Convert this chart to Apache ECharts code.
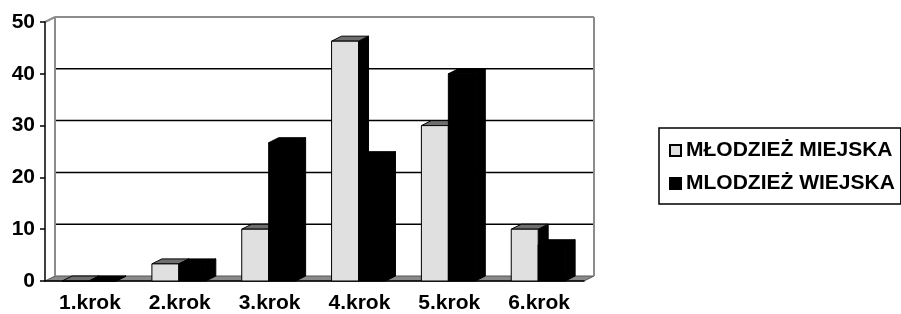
<!DOCTYPE html>
<html>
<head>
<meta charset="utf-8">
<script src="https://cdn.jsdelivr.net/npm/echarts@6/dist/echarts.min.js"></script>
<style>
  html, body { margin: 0; padding: 0; background: #fff; }
  #chart { width: 901px; height: 314px; }
</style>
</head>
<body>
<div id="chart"></div>
<script>
const categories = ['1.krok', '2.krok', '3.krok', '4.krok', '5.krok', '6.krok'];
const miejska = [0, 3.3, 10, 46.3, 30, 10];
const wiejska = [0, 3.3, 26.7, 24, 40, 7];
const yTicks = [0, 10, 20, 30, 40, 50];

// depth of the fake 3d box (px)
const DX = 10, DY = -5;
const FONT = '"Liberation Sans", Arial, sans-serif';

const chart = echarts.init(document.getElementById('chart'), null, { renderer: 'canvas' });

// back wall, floor and grid lines
function renderWalls(params, api) {
  const cs = params.coordSys;
  const x0 = cs.x, x1 = cs.x + cs.width;
  const v = api.value(1);
  const y = api.coord([0, v])[1];
  const yBase = api.coord([0, 0])[1];
  const children = [];
  if (v === 0) {
    children.push({
      type: 'polygon',
      shape: { points: [[x0, y], [x1, y], [x1 + DX, y + DY], [x0 + DX, y + DY]] },
      style: { fill: '#8a8a8a', stroke: '#555', lineWidth: 1 }
    });
  } else if (v === yTicks[yTicks.length - 1]) {
    const gray = { stroke: '#8c8c8c', lineWidth: 2 };
    children.push(
      { type: 'line', shape: { x1: x0 + DX, y1: y + DY, x2: x1 + DX, y2: y + DY }, style: gray },
      { type: 'line', shape: { x1: x0, y1: y, x2: x0 + DX, y2: y + DY }, style: gray },
      { type: 'line', shape: { x1: x0 + DX, y1: y + DY, x2: x0 + DX, y2: yBase + DY }, style: gray },
      { type: 'line', shape: { x1: x1 + DX, y1: y + DY, x2: x1 + DX, y2: yBase + DY }, style: gray }
    );
  } else {
    children.push({
      type: 'line',
      shape: { x1: x0 + DX, y1: y + DY, x2: x1 + DX, y2: y + DY },
      style: { stroke: '#000', lineWidth: 1.5 }
    });
  }
  return { type: 'group', children: children };
}

function barRenderer(startFrac, front, top, side) {
  return function (params, api) {
    const i = api.value(0);
    const catW = api.size([1, 0])[0];
    const c = api.coord([i, api.value(1)]);
    const yBase = api.coord([i, 0])[1];
    const x0 = c[0] - catW / 2 + startFrac * catW;
    const w = 0.3 * catW;
    const yTop = c[1];
    const edge = { stroke: '#000', lineWidth: 1 };
    return {
      type: 'group',
      children: [
        {
          type: 'polygon',
          shape: { points: [[x0 + w, yTop], [x0 + w + DX, yTop + DY], [x0 + w + DX, yBase + DY], [x0 + w, yBase]] },
          style: Object.assign({ fill: side }, edge)
        },
        {
          type: 'polygon',
          shape: { points: [[x0, yTop], [x0 + DX, yTop + DY], [x0 + w + DX, yTop + DY], [x0 + w, yTop]] },
          style: Object.assign({ fill: top }, edge)
        },
        {
          type: 'rect',
          shape: { x: x0, y: yTop, width: w, height: yBase - yTop },
          style: Object.assign({ fill: front }, edge)
        }
      ]
    };
  };
}

const option = {
  animation: false,
  grid: { left: 45, top: 22, width: 539, height: 259 },
  legend: {
    orient: 'vertical',
    left: 659,
    top: 128,
    data: ['MŁODZIEŻ MIEJSKA', 'MLODZIEŻ WIEJSKA'],
    icon: 'rect',
    itemWidth: 11,
    itemHeight: 11,
    itemGap: 12,
    padding: [12, 6, 10, 10],
    borderColor: '#000',
    borderWidth: 1.5,
    textStyle: { fontFamily: FONT, fontWeight: 'bold', fontSize: 21, color: '#000', lineHeight: 20 }
  },
  xAxis: {
    type: 'category',
    data: categories,
    boundaryGap: true,
    axisLine: { lineStyle: { color: '#000', width: 1.5 } },
    axisTick: { alignWithLabel: false, length: 6, lineStyle: { color: '#000', width: 1.5 } },
    axisLabel: { margin: 12, fontFamily: FONT, fontWeight: 'bold', fontSize: 21, color: '#000' },
    splitLine: { show: false }
  },
  yAxis: {
    type: 'value',
    min: 0,
    max: 50,
    interval: 10,
    axisLine: { show: true, lineStyle: { color: '#000', width: 1.5 } },
    axisTick: { show: true, length: 5, lineStyle: { color: '#000', width: 1.5 } },
    axisLabel: { margin: 10, fontFamily: FONT, fontWeight: 'bold', fontSize: 21, color: '#000' },
    splitLine: { show: false }
  },
  series: [
    {
      name: 'walls',
      type: 'custom',
      z: -1,
      silent: true,
      renderItem: renderWalls,
      data: yTicks.map(v => [0, v])
    },
    {
      name: 'MŁODZIEŻ MIEJSKA',
      type: 'custom',
      z: 2,
      itemStyle: { color: '#e0e0e0', borderColor: '#000', borderWidth: 1 },
      renderItem: barRenderer(0.19, '#e0e0e0', '#6e6e6e', '#000'),
      data: miejska.map((v, i) => [i, v])
    },
    {
      name: 'MLODZIEŻ WIEJSKA',
      type: 'custom',
      z: 3,
      itemStyle: { color: '#000', borderColor: '#000', borderWidth: 1 },
      renderItem: barRenderer(0.49, '#000', '#000', '#000'),
      data: wiejska.map((v, i) => [i, v])
    }
  ]
};

chart.setOption(option);
</script>
</body>
</html>
